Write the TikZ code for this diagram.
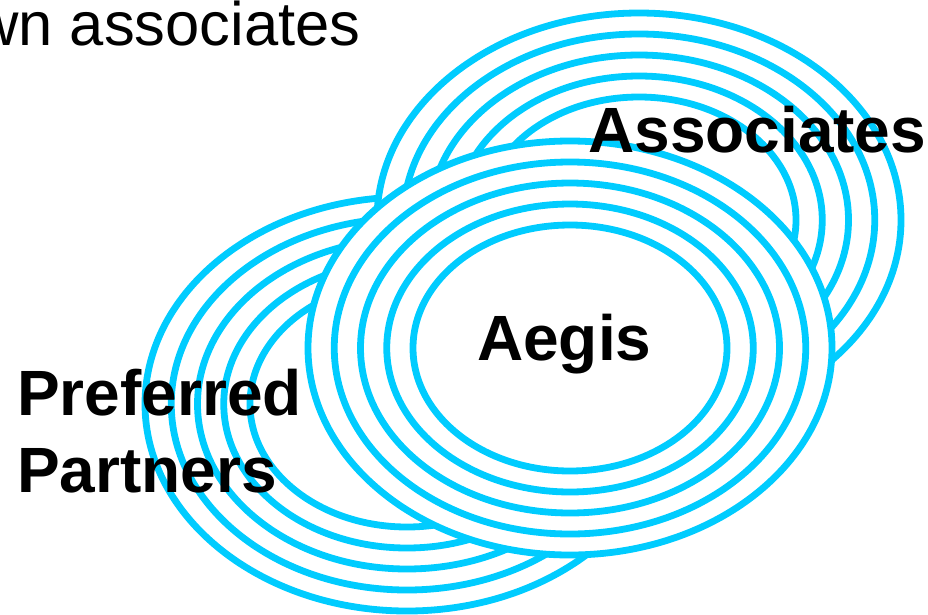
\documentclass[tikz,border=0pt]{standalone}
\usepackage{fontspec}
\setmainfont{Liberation Sans}
\definecolor{ringcyan}{HTML}{00CCFF}
\begin{document}
\begin{tikzpicture}[x=1pt,y=-1pt,
  ring/.style={draw=ringcyan, line width=6.8pt},
  cover/.style={fill=white},
  bigbold/.style={anchor=base west, inner sep=0pt, font=\fontsize{64}{72}\selectfont\bfseries, text=black},
  plain/.style={anchor=base west, inner sep=0pt, font=\fontsize{61.5}{72}\selectfont, text=black}]
\useasboundingbox (0,0) rectangle (928,614);
\clip (0,0) rectangle (928,614);
\fill[white] (0,0) rectangle (928,614);
% three groups of concentric rings: Preferred Partners, Associates, Aegis (drawn bottom to top)
\foreach \cx/\cy in {407/404, 639/220, 570/348} {
  \fill[cover] (\cx,\cy) ellipse [x radius=262pt, y radius=207pt];
  \foreach \i in {0,...,4} {
    \draw[ring] (\cx,\cy) ellipse [x radius={157pt+26.25pt*\i}, y radius={123pt+21pt*\i}];
  }
}
\node[plain] (top) at (-26,45) {wn associates};
\node[bigbold] (assoc) at (588,152) {Associates};
\node[bigbold] (aegis) at (477,360) {Aegis};
\node[bigbold] (pref) at (17,415) {Preferred};
\node[bigbold] (part) at (17,492) {Partners};
\end{tikzpicture}
\end{document}
